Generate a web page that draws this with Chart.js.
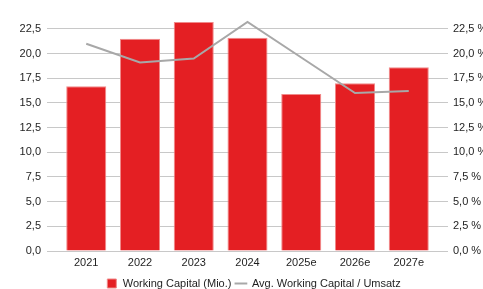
<!DOCTYPE html>
<html>
<head>
<meta charset="utf-8">
<script src="https://cdn.jsdelivr.net/npm/chart.js@4"></script>
<style>
    html, body { margin: 0; padding: 0; background: #fff; overflow: hidden; }
    #wrap { width: 483px; height: 289px; overflow: hidden; }
</style>
</head>
<body>
<div id="wrap">
    <canvas id="myChart" width="507" height="289"></canvas>
</div>
<script>
// data
const years = ['2021', '2022', '2023', '2024', '2025e', '2026e', '2027e'];
const workingCapital = [16.7, 21.5, 23.2, 21.6, 15.9, 17.0, 18.6];
const wcRatio = [21.0, 19.1, 19.5, 23.2, 19.6, 16.0, 16.2];
const yTicks = [0, 2.5, 5, 7.5, 10, 12.5, 15, 17.5, 20, 22.5];

const textColor = '#1e1e1e';
const gridColor = '#c8c8c8';
const font = { family: 'Liberation Sans, Arial, sans-serif', size: 11 };

function fmt(v) {
    return v.toFixed(1).replace('.', ',');
}

function keepTicks(axis) {
    axis.ticks = yTicks.map(v => ({ value: v }));
}

const ctx = document.getElementById('myChart');
new Chart(ctx, {
    type: 'bar',
    data: {
        datasets: [{
            type: 'bar',
            label: 'Working Capital (Mio.)',
            data: years.map((y, i) => ({ x: i, y: workingCapital[i] })),
            backgroundColor: '#e41f23',
            borderColor: '#f08a8a',
            borderWidth: 1,
            categoryPercentage: 1,
            barPercentage: 0.745,
            yAxisID: 'y',
            pointStyle: 'rect',
            order: 2
        }, {
            type: 'line',
            label: 'Avg. Working Capital / Umsatz',
            data: years.map((y, i) => ({ x: i, y: wcRatio[i] })),
            borderColor: '#a8a8a8',
            backgroundColor: '#a8a8a8',
            borderWidth: 2,
            pointRadius: 0,
            tension: 0,
            yAxisID: 'y1',
            pointStyle: 'line',
            order: 1
        }]
    },
    options: {
        responsive: false,
        animation: false,
        layout: { padding: { top: 19, left: 0, right: 0, bottom: -10 } },
        plugins: {
            tooltip: { enabled: false },
            legend: {
                position: 'bottom',
                labels: {
                    usePointStyle: true,
                    boxHeight: 9,
                    padding: 4,
                    color: textColor,
                    font: font,
                    sort: (a, b) => a.datasetIndex - b.datasetIndex
                }
            }
        },
        scales: {
            x: {
                type: 'linear',
                min: -0.73,
                max: 6.73,
                offset: false,
                grid: { display: false, offset: false },
                border: { display: false },
                afterBuildTicks: axis => {
                    axis.ticks = years.map((y, i) => ({ value: i }));
                },
                afterFit: axis => { axis.height = 23; },
                ticks: {
                    color: textColor,
                    font: font,
                    padding: -3,
                    maxRotation: 0,
                    autoSkip: false,
                    callback: v => years[v]
                }
            },
            y: {
                position: 'left',
                min: 0,
                max: 23.5,
                grid: { color: gridColor, drawTicks: false },
                border: { display: false },
                afterBuildTicks: keepTicks,
                afterFit: axis => { axis.width = 47; },
                ticks: {
                    color: textColor,
                    font: font,
                    padding: 6,
                    callback: v => fmt(v)
                }
            },
            y1: {
                position: 'right',
                min: 0,
                max: 23.5,
                grid: { display: false, drawTicks: false },
                border: { display: false },
                afterBuildTicks: keepTicks,
                afterFit: axis => { axis.width = 59; },
                ticks: {
                    color: textColor,
                    font: font,
                    padding: 5,
                    callback: v => fmt(v) + ' %'
                }
            }
        }
    }
});
</script>
</body>
</html>
